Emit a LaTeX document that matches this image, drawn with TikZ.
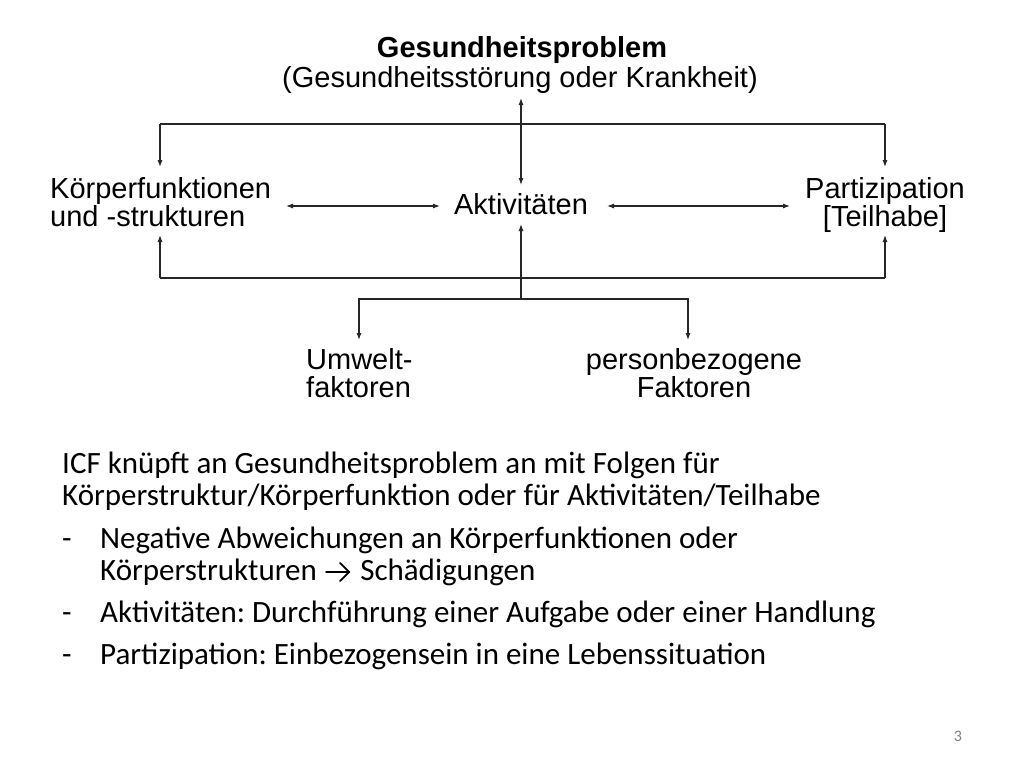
\documentclass[tikz,border=0pt]{standalone}
\usepackage{fontspec}
\setmainfont{Carlito}
\newfontfamily\dfont{Liberation Sans}
\usetikzlibrary{arrows.meta,calc}
\frenchspacing
\begin{document}
\begin{tikzpicture}[x=1pt,y=-1pt,
  conn/.style={line width=1.1pt,draw=black!85},
  arr/.style={conn,-{Latex[length=7pt,width=5pt]}},
  darr/.style={conn,{Latex[length=7pt,width=5pt]}-{Latex[length=7pt,width=5pt]}},
  dlabel/.style={inner sep=0pt,font=\dfont\fontsize{29}{28}\selectfont},
  body/.style={inner sep=0pt,anchor=base west,align=left,font=\frenchspacing\fontsize{31}{31.5}\selectfont},
  txtarrow/.style={line width=1.8pt,draw=black,line cap=round,line join=miter},
]
\useasboundingbox[fill=white] (0,0) rectangle (1024,768);
% diagram labels
\node[dlabel,anchor=base] (gp1) at (522,57) {\bfseries Gesundheitsproblem};
\node[dlabel,anchor=base] (gp2) at (520,87) {(Gesundheitsstörung oder Krankheit)};
\node[dlabel,anchor=base west,align=left] (kf) at (50,226) {Körperfunktionen\\und -strukturen};
\node[dlabel,anchor=base] (akt) at (521,214) {Aktivitäten};
\node[dlabel,anchor=base,align=center] (pt) at (885,226) {Partizipation\\{}[Teilhabe]};
\node[dlabel,anchor=base west,align=left] (uw) at (306,397) {Umwelt-\\faktoren};
\node[dlabel,anchor=base,align=center] (pf) at (694,397) {personbezogene\\Faktoren};
% connector points
\coordinate (tl) at (160,124);
\coordinate (tr) at (885,124);
\coordinate (kfTop) at (160,167);
\coordinate (ptTop) at (885,167);
\coordinate (gpTip) at (521,98);
\coordinate (aktTop) at (521,185);
\coordinate (kfR) at (286,206);
\coordinate (aktL) at (440,206);
\coordinate (aktR) at (607,206);
\coordinate (ptL) at (790,206);
\coordinate (bl) at (160,278);
\coordinate (br) at (885,278);
\coordinate (kfBot) at (160,235);
\coordinate (ptBot) at (885,235);
\coordinate (aktBot) at (521,224);
\coordinate (fork) at (521,299);
\coordinate (uwTop) at (359,340);
\coordinate (pfTop) at (688,340);
% connectors
\draw[conn] (tl) -- (tr);
\draw[arr] (tl) -- (kfTop);
\draw[arr] (tr) -- (ptTop);
\draw[darr] (gpTip) -- (aktTop);
\draw[darr] (kfR) -- (aktL);
\draw[darr] (aktR) -- (ptL);
\draw[conn] (bl) -- (br);
\draw[arr] (bl) -- (kfBot);
\draw[arr] (br) -- (ptBot);
\draw[arr] (fork) -- (aktBot);
\draw[arr] (fork) -| (uwTop);
\draw[arr] (fork) -| (pfTop);
% body text
\node[body] (t1) at (62,505) {ICF knüpft an Gesundheitsproblem an mit Folgen für\\Körperstruktur/Körperfunktion oder für Aktivitäten/Teilhabe};
\node[body] (d1) at (62,548) {-};
\node[body] (t2a) at (100,548) {Negative Abweichungen an Körperfunktionen oder};
\node[body] (t2b) at (100,580) {Körperstrukturen};
\coordinate (arS) at ($(t2b.base east)+(9,-8)$);
\coordinate (arE) at ($(t2b.base east)+(32,-8)$);
\draw[txtarrow] (arS) -- (arE);
\draw[txtarrow] ($(arE)+(-9,-9)$) -- (arE) -- ($(arE)+(-9,9)$);
\node[body] (t2c) at ($(t2b.base east)+(43,0)$) {Schädigungen};
\node[body] (d2) at (62,622) {-};
\node[body] (t3) at (100,622) {Aktivitäten: Durchführung einer Aufgabe oder einer Handlung};
\node[body] (d3) at (62,664) {-};
\node[body] (t4) at (100,664) {Partizipation: Einbezogensein in eine Lebenssituation};
\node[inner sep=0pt,anchor=base,text=black!50,font=\fontsize{16}{18}\selectfont] (pg) at (958,741) {3};
\end{tikzpicture}
\end{document}
